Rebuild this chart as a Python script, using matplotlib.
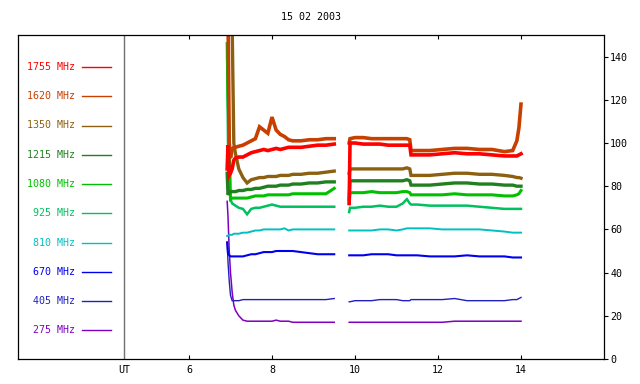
import numpy as np
import matplotlib
matplotlib.use("Agg")
import matplotlib.pyplot as plt

plt.rcParams['font.family'] = ['DejaVu Sans Mono', 'DejaVu Sans']

title = "15 02 2003"
freqs = ["1755 MHz", "1620 MHz", "1350 MHz", "1215 MHz", "1080 MHz",
         "925 MHz", "810 MHz", "670 MHz", "405 MHz", "275 MHz"]
colors = ["#ff0000", "#c84000", "#8c6010", "#208020", "#00c000",
          "#00c060", "#00c0c0", "#0000f0", "#2020c0", "#8000c0"]
widths = [2.6, 2.6, 2.4, 2.4, 2.2, 1.8, 1.4, 1.5, 1.0, 1.1]

# time (UT hours), first and second recording segments
t1 = [6.92, 6.94, 6.97, 7.00, 7.04, 7.08, 7.12, 7.2, 7.3, 7.4, 7.5, 7.6, 7.7,
      7.8, 7.9, 8.0, 8.1, 8.2, 8.3, 8.4, 8.5, 8.7, 8.9, 9.1, 9.3, 9.5]
t2 = [9.86, 9.88, 10.0, 10.2, 10.4, 10.6, 10.8, 11.0, 11.15, 11.25, 11.32,
      11.35, 11.5, 11.8, 12.1, 12.4, 12.7, 13.0, 13.3, 13.6, 13.8, 13.9,
      13.95, 14.0]

s1755_a = [88, 99, 85, 86, 88, 92, 93, 93.5, 93.5, 94.5, 95.5, 96, 96.5, 97,
           96.5, 97, 97.5, 97, 97.5, 98, 98, 98, 98.5, 99, 99, 99.5]
s1755_b = [72, 100, 100, 99.5, 99.5, 99.5, 99, 99, 99, 99, 99, 94.5, 94.5,
           94.5, 95, 95.5, 95, 95, 94.5, 94, 94, 94, 94.5, 95]
s1620_a = [160, 160, 100, 93, 97, 98, 98, 98.5, 99, 100, 101, 102, 107.5,
           106, 104.5, 112, 106, 104, 103, 101.5, 101, 101, 101.5, 101.5,
           102, 102]
s1620_b = [100, 102, 102.5, 102.5, 102, 102, 102, 102, 102, 102, 101.5, 96.5,
           96.5, 96.5, 97, 97.5, 97.5, 97, 97, 96, 96.5, 101, 107, 118]
s1350_a = [160, 160, 160, 160, 155, 100, 95, 88, 84, 81.5, 83, 83.5, 84, 84,
           84.5, 84.5, 84.5, 85, 85, 85, 85.5, 85.5, 86, 86, 86.5, 87]
s1350_b = [86, 88, 88, 88, 88, 88, 88, 88, 88, 88.5, 88, 85, 85, 85, 85.5,
           86, 86, 85.5, 85.5, 85, 84.5, 84, 84, 83.7]
s1215_a = [86, 76, 77, 77.5, 77.5, 77.5, 77.5, 78, 78, 78.5, 78.5, 79, 79,
           79.5, 80, 80, 80, 80.5, 80.5, 80.5, 81, 81, 81.5, 81.5, 82, 82]
s1215_b = [74, 82.5, 82.5, 82.5, 82.5, 82.5, 82.5, 82.5, 82.5, 83, 82.5, 80.5,
           80.5, 80.5, 81, 81.5, 81.5, 81, 81, 80.5, 80.5, 80, 80, 80]
s1080_a = [146, 122, 100, 74, 74.5, 74.5, 74.5, 74.5, 74.5, 74.5, 75, 75.5,
           75.5, 75.5, 76, 76, 76, 76, 76, 76, 76.5, 76.5, 76.5, 76.5, 76.5, 79]
s1080_b = [72, 77, 77, 77, 77.5, 77, 77, 77, 77.5, 77.5, 77, 76, 76, 76, 76,
           76.5, 76, 76, 76, 75.5, 75.5, 76, 76.5, 78]
s925_a = [140, 100, 80, 74, 72, 71.5, 71, 70, 69.5, 67, 69.5, 70, 70, 70.5,
          71, 71.5, 71, 70.5, 70.5, 70.5, 70.5, 70.5, 70.5, 70.5, 70.5, 70.5]
s925_b = [68, 70, 70, 70.5, 70.5, 71, 70.5, 70.5, 72, 74, 72, 71.5, 71.5, 71,
          71, 71, 71, 70.5, 70, 69.5, 69.5, 69.5, 69.5, 69.5]
s810_a = [57, 57, 57.5, 57.5, 57.5, 58, 58, 58, 58.5, 58.5, 59, 59.5, 59.5,
          60, 60, 60, 60, 60, 60.5, 59.5, 60, 60, 60, 60, 60, 60]
s810_b = [59.5, 59.5, 59.5, 59.5, 59.5, 60, 60, 59.5, 60, 60.5, 60.5, 60.5,
          60.5, 60.5, 60, 60, 60, 60, 59.5, 59, 58.5, 58.5, 58.5, 58.5]
s670_a = [54, 49, 48, 47.5, 47.5, 47.5, 47.5, 47.5, 47.5, 48, 48.5, 48.5, 49,
          49.5, 49.5, 49.5, 50, 50, 50, 50, 50, 49.5, 49, 48.5, 48.5, 48.5]
s670_b = [48, 48, 48, 48, 48.5, 48.5, 48.5, 48, 48, 48, 48, 48, 48, 47.5,
          47.5, 47.5, 48, 47.5, 47.5, 47.5, 47, 47, 47, 47]
s405_a = [54, 45, 36, 29.5, 27, 27, 27, 27, 27.5, 27.5, 27.5, 27.5, 27.5,
          27.5, 27.5, 27.5, 27.5, 27.5, 27.5, 27.5, 27.5, 27.5, 27.5, 27.5,
          27.5, 28]
s405_b = [26.5, 26.5, 27, 27, 27, 27.5, 27.5, 27.5, 27, 27, 27, 27.5, 27.5,
          27.5, 27.5, 28, 27, 27, 27, 27, 27.5, 27.5, 28, 28.5]
s275_a = [73, 66, 50, 40, 31, 25, 22.5, 20, 18, 17.5, 17.5, 17.5, 17.5, 17.5,
          17.5, 17.5, 18, 17.5, 17.5, 17.5, 17, 17, 17, 17, 17, 17]
s275_b = [17, 17, 17, 17, 17, 17, 17, 17, 17, 17, 17, 17, 17, 17, 17, 17.5,
          17.5, 17.5, 17.5, 17.5, 17.5, 17.5, 17.5, 17.5]

seg_a = [s1755_a, s1620_a, s1350_a, s1215_a, s1080_a, s925_a, s810_a, s670_a,
         s405_a, s275_a]
seg_b = [s1755_b, s1620_b, s1350_b, s1215_b, s1080_b, s925_b, s810_b, s670_b,
         s405_b, s275_b]

x_ticks = [6, 8, 10, 12, 14]
y_ticks = [0, 20, 40, 60, 80, 100, 120, 140]
ut_pos = 4.434

fig = plt.figure(figsize=(6.4, 3.84), dpi=100)
ax = fig.add_axes([18/640, 25/384, 586/640, 324/384])
ax.set_xlim(1.88, 16.0)
ax.set_ylim(0, 150)

# draw in reverse so high frequencies lie on top
for i in range(len(freqs) - 1, -1, -1):
    ax.plot(t1, seg_a[i], color=colors[i], lw=widths[i], solid_joinstyle='miter')
    ax.plot(t2, seg_b[i], color=colors[i], lw=widths[i], solid_joinstyle='miter')

ax.axvline(ut_pos, color="#707070", lw=1.0)

# legend column
for i, (f, c) in enumerate(zip(freqs, colors)):
    ypx = 67 + 29.25 * i
    yf = (359 - ypx) / 324
    ax.text((75 - 18) / 586, yf, f, color=c, fontsize=7.2, ha='right',
            va='center', transform=ax.transAxes)
    ax.plot([(82 - 18) / 586, (111 - 18) / 586], [yf, yf], color=c, lw=1.0,
            transform=ax.transAxes)

ax.set_xticks([ut_pos] + x_ticks)
ax.set_xticklabels(["UT"] + [str(v) for v in x_ticks])
ax.tick_params(axis='x', direction='in', top=True, bottom=True, length=3,
               width=0.8, labelsize=7.2, pad=4)
ax.xaxis.get_major_ticks()[0].tick1line.set_visible(False)
ax.xaxis.get_major_ticks()[0].tick2line.set_visible(False)
ax.yaxis.tick_right()
ax.set_yticks(y_ticks)
ax.tick_params(axis='y', direction='out', length=3, width=0.8, labelsize=7.2,
               pad=1.5)
for s in ax.spines.values():
    s.set_linewidth(0.9)

ax.set_title(title, fontsize=7.2, pad=11)

fig.savefig("out.png", dpi=100)
